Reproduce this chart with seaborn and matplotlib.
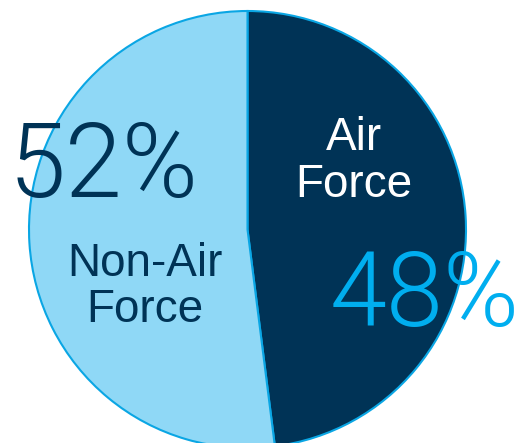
import matplotlib
matplotlib.use("Agg")
import matplotlib.pyplot as plt
import seaborn as sns

labels = ["Air Force", "Non-Air Force"]
shares = [48, 52]
pct_labels = ["48%", "52%"]

sns.set_theme(style="white")
plt.rcParams["font.family"] = ["Liberation Sans", "DejaVu Sans"]

navy = "#003356"
light = "#8fd8f6"
edge = "#0aa6e4"
bright = "#00aeef"
colors = sns.color_palette([navy, light])

fig = plt.figure(figsize=(5.22, 4.43), dpi=100)
ax = fig.add_axes([0, 0, 1, 1])
ax.pie(shares, colors=colors, startangle=90, counterclock=False,
       center=(247.5, 443 - 229.5), radius=218.5,
       wedgeprops=dict(edgecolor=edge, linewidth=1.5))
ax.set_xlim(0, 522)
ax.set_ylim(0, 443)
ax.set_aspect("equal")
ax.axis("off")

# category labels
ax.text(354, 443 - 150, "Air", color="white", fontsize=33, ha="center", va="baseline")
ax.text(354, 443 - 197, "Force", color="white", fontsize=33, ha="center", va="baseline")
ax.text(145, 443 - 276, "Non-Air", color=navy, fontsize=33, ha="center", va="baseline")
ax.text(145, 443 - 322, "Force", color=navy, fontsize=33, ha="center", va="baseline")

# percentages
pct_font = dict(family=["Roboto", "DejaVu Sans"], weight=300, size=74)
ax.text(104, 443 - 197, pct_labels[1], color=navy, ha="center", va="baseline", **pct_font)
ax.text(425, 443 - 326, pct_labels[0], color=bright, ha="center", va="baseline", **pct_font)

fig.savefig("out.png", dpi=100)
